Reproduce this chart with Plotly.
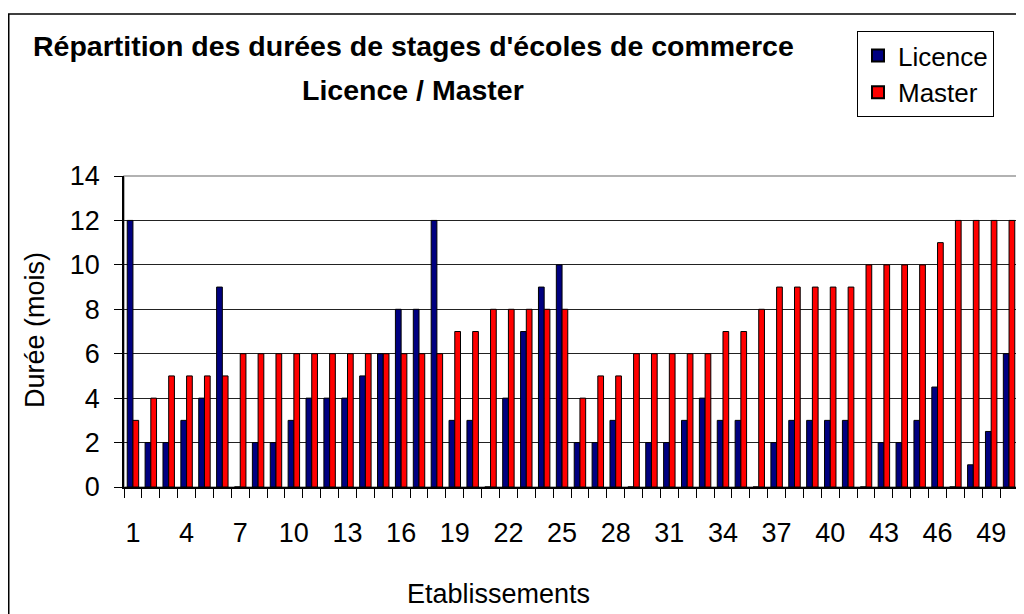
import plotly.graph_objects as go

# etablissements 1..50
etablissements = list(range(1, 51))

# durees de stage (mois)
licence = [12, 2, 2, 3, 4, 9, 0, 2, 2, 3,
           4, 4, 4, 5, 6, 8, 8, 12, 3, 3,
           0, 4, 7, 9, 10, 2, 2, 3, 0, 2,
           2, 3, 4, 3, 3, 0, 2, 3, 3, 3,
           3, 0, 2, 2, 3, 4.5, 0, 1, 2.5, 6]
master = [3, 4, 5, 5, 5, 5, 6, 6, 6, 6,
          6, 6, 6, 6, 6, 6, 6, 6, 7, 7,
          8, 8, 8, 8, 8, 4, 5, 5, 6, 6,
          6, 6, 6, 7, 7, 8, 9, 9, 9, 9,
          9, 10, 10, 10, 10, 11, 12, 12, 12, 12]

x_labels = list(range(1, 51, 3))
y_ticks = list(range(0, 15, 2))

# page has an 8px body margin, so the figure is a bit smaller than the window
W, H = 1016, 606
L, R, T, B = 116, 6, 168, 127
pw = W - L - R
ph = H - T - B

def px(x):
    return (x - L) / pw

def py(y):
    return (H - B - y) / ph

font = "Liberation Sans, Arial, sans-serif"

fig = go.Figure()
fig.add_trace(go.Bar(name="Licence", x=etablissements, y=licence,
                     marker=dict(color="#000080", line=dict(color="black", width=1))))
fig.add_trace(go.Bar(name="Master", x=etablissements, y=master,
                     marker=dict(color="#FF0000", line=dict(color="black", width=1))))

fig.update_layout(
    width=W, height=H,
    margin=dict(l=L, r=R, t=T, b=B),
    paper_bgcolor="white", plot_bgcolor="white",
    barmode="group", bargap=0.36, bargroupgap=0,
    font=dict(family=font, color="black"),
    legend=dict(x=px(849), y=py(23), xanchor="left", yanchor="top",
                bgcolor="white", bordercolor="black", borderwidth=1,
                font=dict(size=26), itemsizing="constant", tracegroupgap=0),
    annotations=[
        dict(text="<b>Répartition des durées de stages d'écoles de commerce</b>",
             xref="paper", yref="paper", x=px(405), y=py(38),
             xanchor="center", yanchor="middle", showarrow=False,
             font=dict(size=28.5, family=font)),
        dict(text="<b>Licence / Master</b>",
             xref="paper", yref="paper", x=px(405), y=py(82),
             xanchor="center", yanchor="middle", showarrow=False,
             font=dict(size=28.5, family=font)),
        dict(text="Durée (mois)", textangle=-90, xref="paper", yref="paper",
             x=px(27), y=py(322), xanchor="center", yanchor="middle", showarrow=False,
             font=dict(size=27, family=font)),
        dict(text="Etablissements", xref="paper", yref="paper",
             x=px(490), y=py(586), xanchor="center", yanchor="middle", showarrow=False,
             font=dict(size=27, family=font)),
    ],
    shapes=[
        dict(type="rect", xref="paper", yref="paper", x0=0, x1=1, y0=0, y1=1,
             line=dict(color="#999999", width=1.5), layer="below"),
        dict(type="rect", xref="paper", yref="paper",
             x0=px(0.75), x1=px(W + 10), y0=py(H + 10), y1=py(6),
             line=dict(color="black", width=1.5)),
    ],
)

fig.update_xaxes(
    range=[0.5, 50.5], tickmode="array", tickvals=x_labels, ticks="",
    ticklabelstandoff=21, tickfont=dict(size=27),
    minor=dict(ticks="outside", tick0=0.5, dtick=1, ticklen=9, tickcolor="black", showgrid=False),
    showline=True, linecolor="black", linewidth=1.5, showgrid=False, zeroline=False,
)
fig.update_yaxes(
    range=[0, 14], tickvals=y_ticks, ticks="outside", ticklen=8, tickcolor="black",
    ticklabelstandoff=9, tickfont=dict(size=27), showline=True, linecolor="black", linewidth=1.5,
    showgrid=True, gridcolor="#222222", gridwidth=1, zeroline=False,
)

fig.write_html("out.html")
